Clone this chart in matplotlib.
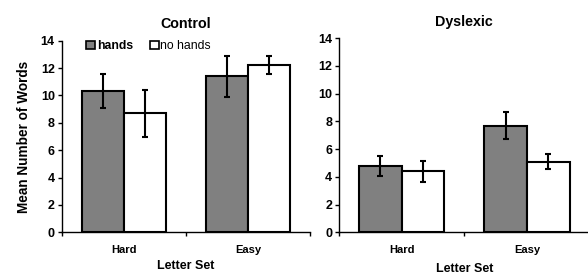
import matplotlib.pyplot as plt
from matplotlib.patches import Patch

plt.rcParams['font.family'] = ['Liberation Sans', 'DejaVu Sans']
plt.rcParams['font.weight'] = 'bold'

letter_sets = ['Hard', 'Easy']
series_names = ['hands', 'no hands']

control_hands = [10.3, 11.4]
control_hands_err = [1.25, 1.5]
control_nohands = [8.7, 12.2]
control_nohands_err = [1.7, 0.65]

dyslexic_hands = [4.8, 7.7]
dyslexic_hands_err = [0.72, 0.95]
dyslexic_nohands = [4.4, 5.1]
dyslexic_nohands_err = [0.75, 0.55]

fig = plt.figure(figsize=(5.88, 2.75), dpi=100)
ax1 = fig.add_axes([0.105, 0.155, 0.422, 0.697])
ax2 = fig.add_axes([0.5765, 0.155, 0.4265, 0.706])

w = 0.34
err_kw = dict(ecolor='black', elinewidth=1.5, capsize=2.5, capthick=1.5)


def draw(ax, hands, hands_err, nohands, nohands_err, title, xlabelpad):
    x = range(len(letter_sets))
    ax.bar([i - w / 2 for i in x], hands, w, yerr=hands_err, color='#808080',
           edgecolor='black', linewidth=1.5, error_kw=err_kw, zorder=2)
    ax.bar([i + w / 2 for i in x], nohands, w, yerr=nohands_err, color='white',
           edgecolor='black', linewidth=1.5, error_kw=err_kw, zorder=2)
    ax.set_xlim(-0.5, 1.5)
    ax.set_ylim(0, 14)
    ax.set_yticks(range(0, 15, 2))
    ax.set_xticks(list(x))
    ax.set_xticklabels(letter_sets, fontsize=8, fontweight='bold')
    ax.set_xticks([-0.5, 0.5, 1.5], minor=True)
    ax.tick_params(axis='x', which='major', length=0, pad=9)
    ax.tick_params(axis='x', which='minor', length=3, width=1)
    ax.tick_params(axis='y', length=3, width=1, labelsize=9, pad=2)
    for lab in ax.get_yticklabels():
        lab.set_fontweight('bold')
    for s in ['top', 'right']:
        ax.spines[s].set_visible(False)
    for s in ['left', 'bottom']:
        ax.spines[s].set_linewidth(1)
    ax.set_title(title, fontsize=10.3, fontweight='bold', pad=9)
    ax.set_xlabel('Letter Set', fontsize=9, fontweight='bold', labelpad=xlabelpad)


draw(ax1, control_hands, control_hands_err, control_nohands, control_nohands_err,
     'Control', 4)
draw(ax2, dyslexic_hands, dyslexic_hands_err, dyslexic_nohands, dyslexic_nohands_err,
     'Dyslexic', 6)
ax1.set_ylabel('Mean Number of Words', fontsize=9.8, fontweight='bold', labelpad=7)

handles = [Patch(facecolor='#808080', edgecolor='black', linewidth=1.2),
           Patch(facecolor='white', edgecolor='black', linewidth=1.2)]
leg = ax1.legend(handles, series_names, ncol=2, frameon=False, fontsize=8.8,
                 loc='center left', bbox_to_anchor=(0.075, 0.97),
                 handlelength=0.7, handleheight=0.7, handletextpad=0.15,
                 columnspacing=1.4, borderpad=0)
leg.get_texts()[0].set_fontweight('bold')
leg.get_texts()[1].set_fontweight('normal')

fig.savefig('out.png', dpi=100)
